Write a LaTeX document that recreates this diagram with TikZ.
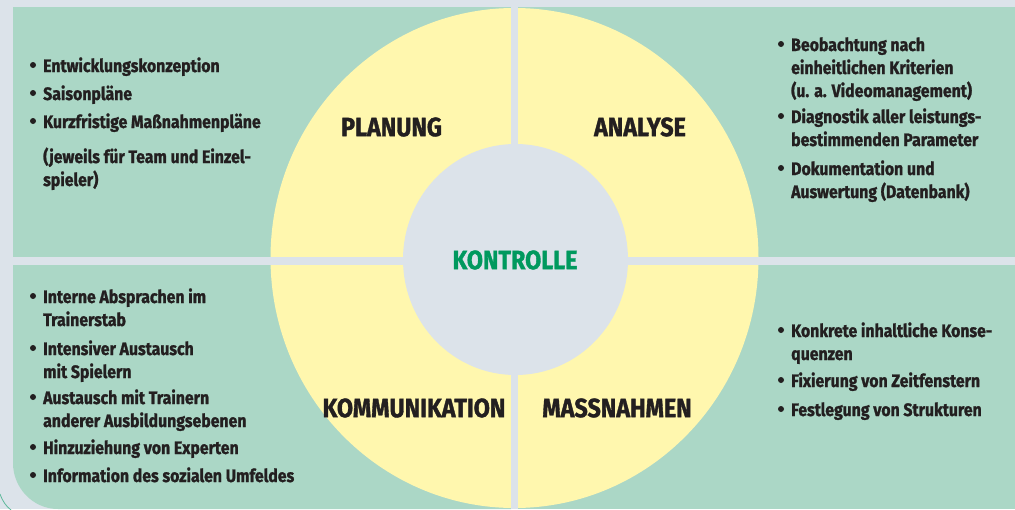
\documentclass[tikz,border=0pt]{standalone}
\usepackage{fontspec}
\setmainfont{Fira Sans}[FakeStretch=0.88,BoldFeatures={FakeBold=1.3}]
\definecolor{bgblue}{HTML}{DCE3EA}
\definecolor{panel}{HTML}{ABD7C6}
\definecolor{sun}{HTML}{FFF7AE}
\definecolor{ink}{HTML}{231F20}
\definecolor{kgreen}{HTML}{00995E}
\definecolor{rim}{HTML}{5DB89A}
\newcommand\bodytxt{\fontsize{18}{23}\selectfont\bfseries}
\newcommand\headtxt{\fontsize{26.5}{32}\selectfont\bfseries}

\begin{document}
\begin{tikzpicture}[x=1pt,y=-1pt,
  item/.style={anchor=base west,align=left,inner sep=0pt,text=ink,font=\bodytxt},
  head/.style={inner sep=0pt,text=ink,font=\headtxt}]
  \useasboundingbox (0,0) rectangle (1015,509);
  % background and the four fields
  \fill[bgblue] (0,0) rectangle (1015,509);
  \fill[panel] (13,7) rectangle (511,257);
  \fill[panel] (518,7) rectangle (1015,257);
  \fill[panel] (518,265) rectangle (1015,509);
  \fill[panel] (511,265) -- (13,265) -- (13,463)
    .. controls (13,488) and (33,509) .. (58,509) -- (511,509) -- cycle;
  \draw[rim,line width=0.8pt] (0,494) .. controls (3,502) and (6,506) .. (11,510);
  % circle
  \fill[sun] (514.5,258) ellipse [x radius=244,y radius=250];
  \fill[bgblue] (511,7) rectangle (518,509);
  \fill[bgblue] (13,257) rectangle (1015,265);
  \fill[bgblue] (515.5,259.5) ellipse [x radius=112.5,y radius=115.5];
  % headings
  \node[head] (plan) at (391.5,127) {PLANUNG};
  \node[head] (ana)  at (640,127) {ANALYSE};
  \node[head,text=kgreen] (kon) at (515,260) {KONTROLLE};
  \node[head] (komm) at (414,408) {KOMMUNIKATION};
  \node[head] (mass) at (617,408) {MASSNAHMEN};
  % lists (y = first baseline, k = number of lines)
  \foreach \n/\x/\y/\k/\t in {
    pl1/43/72/1/Entwicklungskonzeption,
    pl2/43/100/1/Saisonpläne,
    pl3/43/128/1/Kurzfristige Maßnahmenpläne,
    an1/791/51/3/Beobachtung nach\\einheitlichen Kriterien\\(u. a. Videomanagement),
    an2/791/123/2/Diagnostik aller leistungs-\\bestimmenden Parameter,
    an3/791/175/2/Dokumentation und\\Auswertung (Datenbank),
    ko1/43/303/2/Interne Absprachen im\\Trainerstab,
    ko2/43/355/2/Intensiver Austausch\\mit Spielern,
    ko3/43/404/2/Austausch mit Trainern\\anderer Ausbildungsebenen,
    ko4/43/454/1/Hinzuziehung von Experten,
    ko5/43/482/1/Information des sozialen Umfeldes,
    ma1/791/337/2/Konkrete inhaltliche Konse-\\quenzen,
    ma2/791/387/1/Fixierung von Zeitfenstern,
    ma3/791/416/1/Festlegung von Strukturen}
  {
    \node[item] (\n) at (\x,{\y+23*(\k-1)}) {\t};
    \fill[ink] (\x-10,\y-7) circle (3);
  }
  \node[item] (pl4) at (43,186) {(jeweils für Team und Einzel-\\spieler)};
\end{tikzpicture}
\end{document}
